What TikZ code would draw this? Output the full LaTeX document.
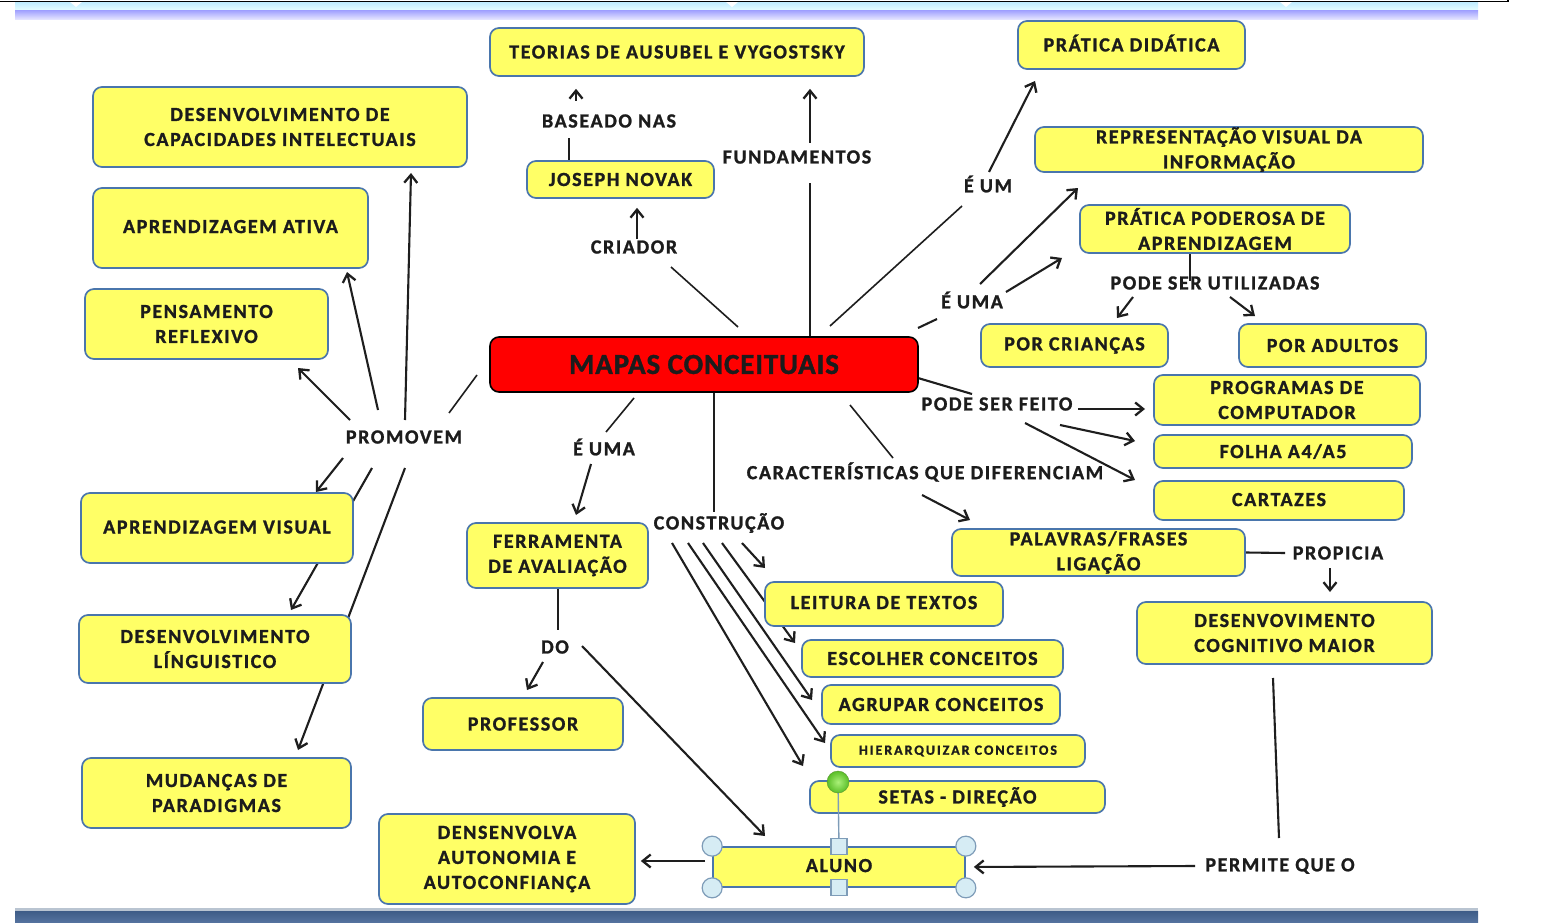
\documentclass[tikz,border=0pt]{standalone}
\usepackage{fontspec}
\setmainfont{Carlito}
\newfontfamily\mapfont{Carlito}[LetterSpace=8, BoldFeatures={FakeBold=1.2}]
\newfontfamily\titlefont{Carlito}[LetterSpace=3, BoldFeatures={FakeBold=1.2}]
\usetikzlibrary{arrows.meta}
\definecolor{boxfill}{HTML}{FFFF66}
\definecolor{boxline}{HTML}{4A76AC}
\definecolor{ink}{HTML}{1C1C1C}
\definecolor{wire}{HTML}{1E1E1E}
\definecolor{handlefill}{HTML}{D6ECF4}
\definecolor{handleline}{HTML}{7E9CB8}
\definecolor{barline}{HTML}{B9C4D1}
\definecolor{bartop}{HTML}{3E5C87}
\definecolor{barbottom}{HTML}{5674A0}
\definecolor{greenin}{HTML}{AAF078}
\definecolor{greenout}{HTML}{5ABE28}
\definecolor{greenline}{HTML}{5A9632}
\pgfdeclarelayer{bg}
\pgfdeclarelayer{paper}
\pgfsetlayers{paper,bg,main}
\tikzset{
  box/.style={draw=boxline, line width=1.7pt, fill=boxfill, rounded corners=9pt,
    align=center, inner sep=0pt, text=ink,
    font=\mapfont\bfseries\fontsize{20}{25}\selectfont},
  lbl/.style={text=ink, inner sep=1pt, font=\mapfont\bfseries\fontsize{20}{25}\selectfont},
  link/.style={draw=wire, line width=2.1pt},
  arr/.style={link, -{Straight Barb[length=8pt,width=13pt,line width=2.3pt]}},
  handle/.style={circle, draw=handleline, fill=handlefill, line width=1.2pt, minimum size=20pt, inner sep=0pt},
  sqhandle/.style={rectangle, draw=handleline, fill=handlefill, line width=1.2pt, minimum size=16pt, inner sep=0pt},
}
\begin{document}
\begin{tikzpicture}[x=1pt,y=-1pt]
\useasboundingbox (0,0) rectangle (1553,923);
\begin{pgfonlayer}{paper}
\fill[white] (0,0) rectangle (1553,923);
% window ribbon at the top
\shade[top color=blue!30!cyan!25, bottom color=cyan!8] (15,2) rectangle (1478,11);
\shade[top color=blue!35!white, bottom color=blue!8!white] (15,11) rectangle (1478,20);
\foreach \t in {76,732,1286}{\fill[white] (\t-6,2) -- (\t+6,2) -- (\t,7) -- cycle;}
\draw[black, line width=1.6pt] (0,1.5) -- (1508,1.5) -- (1508,0);
% status bar at the bottom
\fill[barline] (15,908) rectangle (1478,911);
\shade[top color=bartop, bottom color=barbottom] (15,911) rectangle (1478,923);
\end{pgfonlayer}

% central concept
\node[draw=black, line width=1.6pt, fill=red, rounded corners=9pt, minimum width=428pt, minimum height=55pt,
  text=ink, font=\titlefont\bfseries\fontsize{29}{30}\selectfont] (mapas) at (704,364.5) {MAPAS CONCEITUAIS};

% concept boxes
\node[box, minimum width=374pt, minimum height=48pt] (teorias) at (677,52) {TEORIAS DE AUSUBEL E VYGOSTSKY};
\node[box, minimum width=227pt, minimum height=48pt] (pratica) at (1131.5,45) {\raisebox{4pt}{PRÁTICA DIDÁTICA}};
\node[box, minimum width=374pt, minimum height=80pt] (capac) at (280,127) {DESENVOLVIMENTO DE\\CAPACIDADES INTELECTUAIS};
\node[box, minimum width=187pt, minimum height=37pt] (novak) at (620.5,179.5) {JOSEPH NOVAK};
\node[box, minimum width=388pt, minimum height=45pt] (repres) at (1229,149.5) {REPRESENTAÇÃO VISUAL DA\\INFORMAÇÃO};
\node[box, minimum width=275pt, minimum height=80pt] (ativa) at (230.5,228) {\raisebox{3pt}{APRENDIZAGEM ATIVA}};
\node[box, minimum width=270pt, minimum height=48pt] (poderosa) at (1215,229) {PRÁTICA PODEROSA DE\\APRENDIZAGEM};
\node[box, minimum width=243pt, minimum height=70pt] (pensam) at (206.5,324) {PENSAMENTO\\REFLEXIVO};
\node[box, minimum width=187pt, minimum height=43pt] (criancas) at (1074.5,345.5) {POR CRIANÇAS};
\node[box, minimum width=187pt, minimum height=43pt] (adultos) at (1332.5,345.5) {POR ADULTOS};
\node[box, minimum width=266pt, minimum height=50pt] (programas) at (1287,400) {PROGRAMAS DE\\COMPUTADOR};
\node[box, minimum width=258pt, minimum height=33pt] (folha) at (1283,451.5) {FOLHA A4/A5};
\node[box, minimum width=250pt, minimum height=39pt] (cartazes) at (1279,500.5) {\raisebox{2pt}{CARTAZES}};
\node[box, minimum width=272pt, minimum height=70pt] (visual) at (217,528) {\raisebox{2pt}{APRENDIZAGEM VISUAL}};
\node[box, minimum width=181pt, minimum height=65pt] (ferramenta) at (557.5,555.5) {FERRAMENTA\\DE AVALIAÇÃO};
\node[box, minimum width=293pt, minimum height=47pt] (palavras) at (1098.5,552.5) {PALAVRAS/FRASES\\LIGAÇÃO};
\node[box, minimum width=238pt, minimum height=44pt] (leitura) at (884,604) {\raisebox{3pt}{LEITURA DE TEXTOS}};
\node[box, minimum width=295pt, minimum height=62pt] (cognitivo) at (1284.5,633) {DESENVOVIMENTO\\COGNITIVO MAIOR};
\node[box, minimum width=272pt, minimum height=68pt] (linguistico) at (215,649) {DESENVOLVIMENTO\\LÍNGUISTICO};
\node[box, minimum width=261pt, minimum height=37pt] (escolher) at (932.5,658.5) {ESCOLHER CONCEITOS};
\node[box, minimum width=238pt, minimum height=39pt] (agrupar) at (941,704.5) {AGRUPAR CONCEITOS};
\node[box, minimum width=200pt, minimum height=52pt] (professor) at (523,724) {PROFESSOR};
\node[box, minimum width=254pt, minimum height=32pt,
  font=\mapfont\bfseries\fontsize{14}{15}\selectfont\addfontfeature{LetterSpace=14}] (hierarq) at (958,751) {HIERARQUIZAR CONCEITOS};
\node[box, minimum width=269pt, minimum height=70pt] (mudancas) at (216.5,793) {MUDANÇAS DE\\PARADIGMAS};
\node[box, minimum width=295pt, minimum height=32pt] (setas) at (957.5,797) {SETAS - DIREÇÃO};
\node[box, minimum width=256pt, minimum height=90pt] (autonomia) at (507,859) {DENSENVOLVA\\AUTONOMIA E\\AUTOCONFIANÇA};
\node[box, minimum width=252pt, minimum height=40pt] (aluno) at (839,867) {\raisebox{3pt}{ALUNO}};

% linking phrases
\node[lbl] (baseado) at (609,121) {BASEADO NAS};
\node[lbl] (fundamentos) at (797,157) {FUNDAMENTOS};
\node[lbl] (criador) at (634,247) {CRIADOR};
\node[lbl] (eum) at (988,184) {É UM};
\node[lbl] (eumaright) at (972,300) {É UMA};
\node[lbl] (utilizadas) at (1215,283) {PODE SER UTILIZADAS};
\node[lbl] (promovem) at (404,437) {PROMOVEM};
\node[lbl] (eumaleft) at (604,447) {É UMA};
\node[lbl] (feito) at (997,404) {PODE SER FEITO};
\node[lbl] (caract) at (925,472) {CARACTERÍSTICAS QUE DIFERENCIAM};
\node[lbl] (construcao) at (719,523) {CONSTRUÇÃO};
\node[lbl] (propicia) at (1338,553) {PROPICIA};
\node[lbl] (do) at (555,647) {DO};
\node[lbl] (permite) at (1280,866) {PERMITE QUE O};

% free ends of the connectors
\coordinate (nvk) at (569,138);
\coordinate (bas) at (576,101);
\coordinate (fnd) at (810,183);
\coordinate (fndup) at (810,143);
\coordinate (m1) at (738,327);
\coordinate (cri) at (671,267);
\coordinate (m2) at (830,326);
\coordinate (eumin) at (962,206);
\coordinate (eumout) at (989,172);
\coordinate (eumt) at (1035,81);
\coordinate (m3) at (918,328);
\coordinate (eumain) at (937,319);
\coordinate (eua1) at (980,284);
\coordinate (eua1t) at (1078,188);
\coordinate (eua2) at (1006,292);
\coordinate (eua2t) at (1062,258);
\coordinate (util) at (1190,281);
\coordinate (ut1) at (1133,297);
\coordinate (ut1t) at (1117,318);
\coordinate (ut2) at (1230,297);
\coordinate (ut2t) at (1255,316);
\coordinate (m4) at (918,378);
\coordinate (feitoin) at (972,394);
\coordinate (pf1) at (1078,409);
\coordinate (pf1t) at (1145,409);
\coordinate (pf2) at (1060,425);
\coordinate (pf2t) at (1135,441);
\coordinate (pf3) at (1025,423);
\coordinate (pf3t) at (1135,480);
\coordinate (m5) at (850,405);
\coordinate (carin) at (893,458);
\coordinate (car) at (922,495);
\coordinate (cart) at (970,520);
\coordinate (cons) at (714,512);
\coordinate (m6) at (634,398);
\coordinate (euain) at (606,432);
\coordinate (eua) at (591,464);
\coordinate (euat) at (576,515);
\coordinate (m7) at (477,375);
\coordinate (promin) at (449,413);
\coordinate (pr1) at (350,420);   \coordinate (pr1t) at (298,368);
\coordinate (pr2) at (378,410);   \coordinate (pr2t) at (347,272);
\coordinate (pr3) at (405,420);   \coordinate (pr3t) at (411,173);
\coordinate (pr4) at (343,458);   \coordinate (pr4t) at (316,492);
\coordinate (pr5) at (372,468);   \coordinate (pr5t) at (291,610);
\coordinate (pr6) at (405,468);   \coordinate (pr6t) at (298,750);
\coordinate (doin) at (558,630);
\coordinate (do1) at (543,662);   \coordinate (do1t) at (527,690);
\coordinate (do2) at (582,646);   \coordinate (do2t) at (765,836);
\coordinate (cn1) at (742,543);   \coordinate (cn1t) at (765,568);
\coordinate (cn2) at (722,543);   \coordinate (cn2t) at (795,643);
\coordinate (cn3) at (703,543);   \coordinate (cn3t) at (812,700);
\coordinate (cn4) at (688,543);   \coordinate (cn4t) at (825,743);
\coordinate (cn5) at (672,543);   \coordinate (cn5t) at (803,766);
\coordinate (propin) at (1285,553);
\coordinate (prop) at (1330,568);
\coordinate (propt) at (1330,592);
\coordinate (cogout) at (1273,678);
\coordinate (permin) at (1279,838);
\coordinate (perm) at (1195,866);
\coordinate (alu) at (705,861);

\begin{pgfonlayer}{bg}
% upper branch
\draw[link] (novak.north -| nvk) -- (nvk);
\draw[arr, shorten >=12pt] (bas) -- (bas |- teorias.south);
\draw[link] (mapas.north -| fnd) -- (fnd);
\draw[arr, shorten >=12pt] (fndup) -- (fndup |- teorias.south);
\draw[arr, shorten >=9pt] (criador.north -| 637,0) -- (novak.south -| 637,0);
\draw[link, line width=1.6pt] (m1) -- (cri);
\draw[link, line width=1.6pt] (m2) -- (eumin);
\draw[arr] (eumout) -- (eumt);
\draw[link] (m3) -- (eumain);
\draw[arr] (eua1) -- (eua1t);
\draw[arr] (eua2) -- (eua2t);
\draw[link] (poderosa.south -| util) -- (util);
\draw[arr] (ut1) -- (ut1t);
\draw[arr] (ut2) -- (ut2t);
% right branch
\draw[link] (m4) -- (feitoin);
\draw[arr] (pf1) -- (pf1t);
\draw[arr] (pf2) -- (pf2t);
\draw[arr] (pf3) -- (pf3t);
\draw[link, line width=1.6pt] (m5) -- (carin);
\draw[arr] (car) -- (cart);
\draw[link] (palavras.east) -- (propin);
\draw[arr] (prop) -- (propt);
\draw[link] (cogout) -- (permin);
\draw[arr, shorten >=8pt] (perm) -- (aluno.east);
% lower branch
\draw[link] (mapas.south -| cons) -- (cons);
\draw[link, line width=1.6pt] (m6) -- (euain);
\draw[arr] (eua) -- (euat);
\draw[link] (ferramenta.south -| doin) -- (doin);
\draw[arr] (do1) -- (do1t);
\draw[arr] (do2) -- (do2t);
\foreach \a in {1,...,5}{\draw[arr] (cn\a) -- (cn\a t);}
\draw[arr, shorten >=5pt] (alu) -- (autonomia.east |- alu);
% left branch
\draw[link, line width=1.6pt] (m7) -- (promin);
\foreach \a in {1,...,6}{\draw[arr] (pr\a) -- (pr\a t);}
\end{pgfonlayer}

% selection handles around ALUNO
\draw[handleline, line width=1.4pt] (aluno.north) -- (838,782);
\node[circle, draw=greenline, inner color=greenin, outer color=greenout, minimum size=22pt, inner sep=0pt] (rot) at (838,782) {};
\node[handle] (hnw) at (aluno.north west) {};
\node[handle] (hne) at (aluno.north east) {};
\node[handle] (hsw) at (aluno.south west) {};
\node[handle] (hse) at (aluno.south east) {};
\node[sqhandle] (hn) at (aluno.north) {};
\node[sqhandle] (hs) at (aluno.south) {};
\end{tikzpicture}
\end{document}
